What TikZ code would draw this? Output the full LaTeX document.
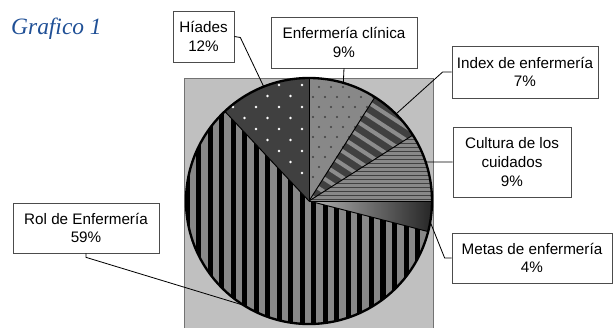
\documentclass[tikz,border=0pt]{standalone}
\usepackage{fontspec}
\setmainfont{Liberation Sans}
\newfontfamily\titlefont{Liberation Serif}
\definecolor{titleblue}{RGB}{32,80,150}
\definecolor{plotgrey}{RGB}{192,192,192}
\definecolor{darkgrey}{RGB}{64,64,64}
\definecolor{midgrey}{RGB}{136,136,136}
\definecolor{stripegrey}{RGB}{140,140,140}
\tikzset{
	label box/.style={draw=black!70, fill=white, line width=0.6pt, align=center, inner sep=0pt, font=\fontsize{13}{16}\selectfont},
	leader/.style={line width=0.7pt},
	slice edge/.style={line width=0.8pt},
	pie rim/.style={line width=2pt},
	plotarea/.style={draw=black!55, fill=plotgrey, line width=0.6pt}
}
\begin{document}
\begin{tikzpicture}[x=0.03cm,y=0.03cm]
	\useasboundingbox (-309,-126) rectangle (305,201);

	% Title
	\node[anchor=base west, inner sep=0pt, text=titleblue, font=\titlefont\itshape\fontsize{20}{24}\selectfont] (title) at (-298,167) {Grafico 1};

	% Draw the grey plot area
	\draw[plotarea] (-125,-135) rectangle (124,123);

	% Rol de Enfermería slice with vertical stripes
	\begin{scope}
		\clip (0,0) -- (-14.4:123) arc[start angle=-14.4, end angle=-226.8, radius=123] -- cycle;
		\fill[midgrey] (-125,-125) rectangle (125,125);
		\foreach \x in {-124,-112.5,...,124}
			\fill[black] (\x,-125) rectangle ++(5,250);
	\end{scope}

	% Híades slice: white dots on dark grey
	\begin{scope}
		\clip (0,0) -- (90:123) arc[start angle=90, end angle=133.2, radius=123] -- cycle;
		\fill[darkgrey] (-125,0) rectangle (0,125);
		\foreach \row in {0,...,11}
			\foreach \col in {0,...,6}
				\fill[white] ({-7-23*\col-11.5*mod(\row,2)},{6+11*\row}) circle[radius=1.3];
	\end{scope}

	% Enfermería clínica slice: dark dots on grey
	\begin{scope}
		\clip (0,0) -- (57.6:123) arc[start angle=57.6, end angle=90, radius=123] -- cycle;
		\fill[midgrey] (0,0) rectangle (70,125);
		\foreach \row in {0,...,12}
			\foreach \col in {0,...,6}
				\fill[darkgrey] ({4+12*\col+6*mod(\row,2)},{4+10*\row}) circle[radius=1.1];
	\end{scope}

	% Index de enfermería slice: diagonal bands
	\begin{scope}
		\clip (0,0) -- (32.4:123) arc[start angle=32.4, end angle=57.6, radius=123] -- cycle;
		\fill[darkgrey] (0,0) rectangle (125,125);
		\foreach \d in {5,16,...,140}
			\draw[stripegrey, line width=3.4pt, shift={(57:\d)}] (147:150) -- (-33:150);
	\end{scope}

	% Cultura de los cuidados slice: horizontal lines
	\begin{scope}
		\clip (0,0) -- (0:123) arc[start angle=0, end angle=32.4, radius=123] -- cycle;
		\fill[midgrey] (0,0) rectangle (125,70);
		\foreach \y in {1.5,5.5,...,70}
			\draw[darkgrey, line width=1.1pt] (0,\y) -- (125,\y);
	\end{scope}

	% Metas de enfermería slice: shaded
	\shade[left color=black!30, right color=black!85] (0,0) -- (0:123) arc[start angle=0, end angle=-14.4, radius=123] -- cycle;

	% Slice borders and rim
	\foreach \a in {90,57.6,32.4,0,-14.4,133.2}
		\draw[slice edge] (0,0) -- (\a:123);
	\draw[pie rim] (0,0) circle[radius=123];

	% Label boxes
	\node[label box, minimum width=1.83cm, minimum height=1.53cm] (hiades) at (-105.5,164.5) {Híades\\12\%};
	\node[label box, minimum width=4.38cm, minimum height=1.53cm] (clinica) at (35,158.5) {Enfermería clínica\\9\%};
	\node[label box, minimum width=4.38cm, minimum height=1.56cm] (index) at (216,129) {Index de enfermería\\7\%};
	\node[label box, minimum width=3.54cm, minimum height=2.1cm] (cultura) at (203,39) {Cultura de los\\cuidados\\9\%};
	\node[label box, minimum width=4.8cm, minimum height=1.5cm] (metas) at (223,-57) {Metas de enfermería\\4\%};
	\node[label box, minimum width=4.38cm, minimum height=1.5cm] (rol) at (-223,-27) {Rol de Enfermería\\59\%};

	% Leader ends on the rim
	\coordinate (hiades-end) at (111.6:123);
	\coordinate (clinica-end) at (73.8:123);
	\coordinate (index-end) at (45:123);
	\coordinate (cultura-end) at (18.5:123);
	\coordinate (metas-end) at (-9.8:123);
	\coordinate (rol-end) at (-122:123);

	% Leader lines
	\draw[leader] (hiades.east) -- ++(6,-1) -- (hiades-end);
	\draw[leader] (clinica.south) -- (clinica-end);
	\draw[leader] (index.west) -- ++(-9,0) -- (index-end);
	\draw[leader] (cultura.west) -- (cultura-end);
	\draw[leader] (metas.west) -- ++(-7,0) -- (metas-end);
	\draw[leader] (rol.south) -- ++(0,-4) -- (rol-end);

\end{tikzpicture}
\end{document}
